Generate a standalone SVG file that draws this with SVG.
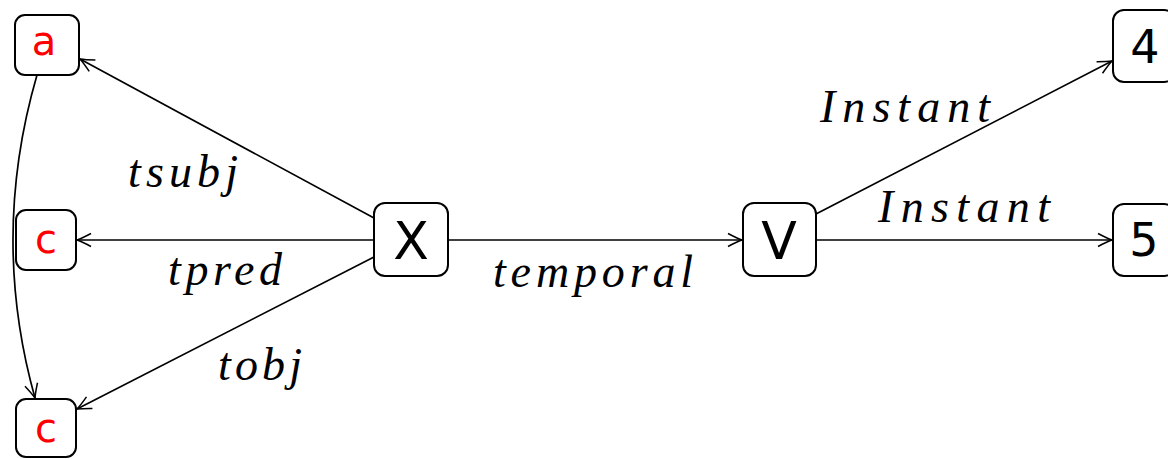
<svg xmlns="http://www.w3.org/2000/svg" width="1168" height="459" viewBox="0 0 1168 459">
<style>
.box{fill:#fff;stroke:#000;stroke-width:2}
.nt{font-family:"DejaVu Sans",sans-serif;text-anchor:middle}
.red{fill:#ff0000;font-size:40px}
.blk{fill:#000;font-size:52px}
.dig{fill:#000;font-size:46px}
.lbl{font-family:"Liberation Serif",serif;font-style:italic;font-size:46px;fill:#000}
.edge{fill:none;stroke:#000;stroke-width:1.7}
</style>
<defs>
<marker id="arr" viewBox="-16 -8 18 16" refX="0" refY="0" markerWidth="18" markerHeight="16" orient="auto" markerUnits="userSpaceOnUse">
<path d="M-14,-6.5 Q-5,-1.8 0,0 Q-5,1.8 -14,6.5" fill="none" stroke="#000" stroke-width="1.5"/>
</marker>
</defs>
<g id="connectors">
<line class="edge" x1="374" y1="218" x2="80" y2="59" marker-end="url(#arr)"/>
<line class="edge" x1="374" y1="240" x2="77" y2="240" marker-end="url(#arr)"/>
<line class="edge" x1="374" y1="257" x2="77" y2="409" marker-end="url(#arr)"/>
<line class="edge" x1="448" y1="240" x2="742" y2="240" marker-end="url(#arr)"/>
<line class="edge" x1="816" y1="214" x2="1112" y2="61" marker-end="url(#arr)"/>
<line class="edge" x1="816" y1="240" x2="1112" y2="240" marker-end="url(#arr)"/>
<path class="edge" d="M37,75 Q-10,237 35,398" marker-end="url(#arr)"/>
<text class="lbl" x="128" y="187" textLength="110" lengthAdjust="spacing">tsubj</text>
<text class="lbl" x="168" y="285" textLength="114" lengthAdjust="spacing">tpred</text>
<text class="lbl" x="218" y="380" textLength="84" lengthAdjust="spacing">tobj</text>
<text class="lbl" x="493" y="287" textLength="200" lengthAdjust="spacing">temporal</text>
<text class="lbl" x="820" y="122" textLength="170" lengthAdjust="spacing">Instant</text>
<text class="lbl" x="878" y="222" textLength="172" lengthAdjust="spacing">Instant</text>
</g>
<g id="node-a">
<rect class="box" x="15" y="15" width="64" height="60" rx="10"/>
<text class="nt red" x="44" y="55">a</text>
</g>
<g id="node-c1">
<rect class="box" x="16" y="210" width="60" height="60" rx="10"/>
<text class="nt red" x="46" y="253">c</text>
</g>
<g id="node-c2">
<rect class="box" x="16" y="399" width="60" height="58" rx="10"/>
<text class="nt red" x="46" y="442">c</text>
</g>
<g id="node-X">
<rect class="box" x="374" y="203" width="74" height="73" rx="11"/>
<text class="nt blk" x="411" y="259">X</text>
</g>
<g id="node-V">
<rect class="box" x="743" y="203" width="73" height="73" rx="11"/>
<text class="nt blk" x="779" y="259">V</text>
</g>
<g id="node-4">
<rect class="box" x="1113" y="10" width="62" height="72" rx="11"/>
<text class="nt dig" x="1145" y="63">4</text>
</g>
<g id="node-5">
<rect class="box" x="1113" y="204" width="62" height="72" rx="11"/>
<text class="nt dig" x="1144" y="256">5</text>
</g>
</svg>
